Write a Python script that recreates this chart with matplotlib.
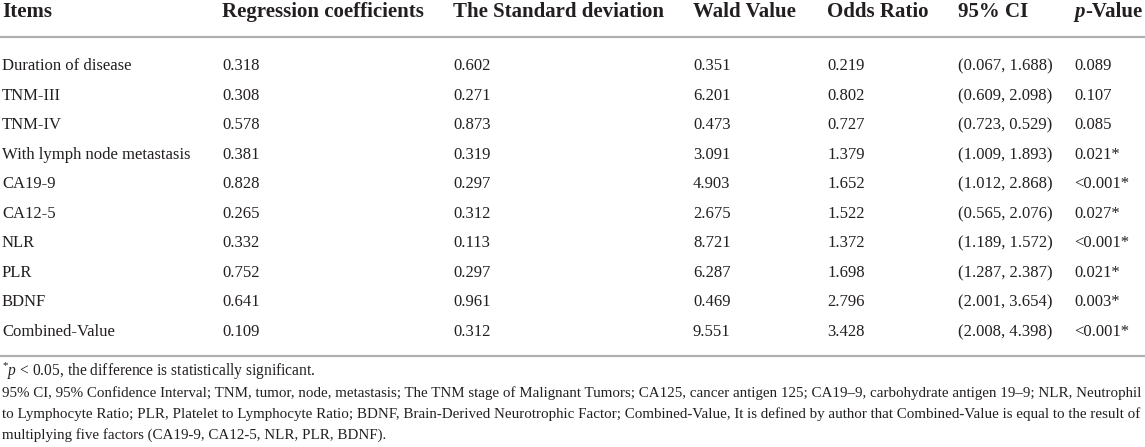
import matplotlib
matplotlib.use("Agg")
import matplotlib.pyplot as plt
from matplotlib.lines import Line2D

plt.rcParams['font.family'] = ['Liberation Serif', 'DejaVu Serif']
plt.rcParams['mathtext.fontset'] = 'custom'
plt.rcParams['mathtext.rm'] = 'Liberation Serif'
plt.rcParams['mathtext.it'] = 'Liberation Serif:italic'
plt.rcParams['mathtext.bf'] = 'Liberation Serif:bold'

headers = ["Items", "Regression coefficients", "The Standard deviation",
           "Wald Value", "Odds Ratio", "95% CI", "-Value"]
items = ["Duration of disease", "TNM-III", "TNM-IV", "With lymph node metastasis",
         "CA19-9", "CA12-5", "NLR", "PLR", "BDNF", "Combined-Value"]
reg_coef = ["0.318", "0.308", "0.578", "0.381", "0.828", "0.265", "0.332", "0.752", "0.641", "0.109"]
std_dev = ["0.602", "0.271", "0.873", "0.319", "0.297", "0.312", "0.113", "0.297", "0.961", "0.312"]
wald = ["0.351", "6.201", "0.473", "3.091", "4.903", "2.675", "8.721", "6.287", "0.469", "9.551"]
odds = ["0.219", "0.802", "0.727", "1.379", "1.652", "1.522", "1.372", "1.698", "2.796", "3.428"]
ci = ["(0.067, 1.688)", "(0.609, 2.098)", "(0.723, 0.529)", "(1.009, 1.893)", "(1.012, 2.868)",
      "(0.565, 2.076)", "(1.189, 1.572)", "(1.287, 2.387)", "(2.001, 3.654)", "(2.008, 4.398)"]
pval = ["0.089", "0.107", "0.085", "0.021*", "<0.001*", "0.027*", "<0.001*", "0.021*", "0.003*", "<0.001*"]

foot1 = r"$^{*}p$ < 0.05, the difference is statistically significant."
foot_lines = [
    "95% CI, 95% Confidence Interval; TNM, tumor, node, metastasis; The TNM stage of Malignant Tumors; "
    "CA125, cancer antigen 125; CA19\u20139, carbohydrate antigen 19\u20139; NLR, Neutrophil",
    "to Lymphocyte Ratio; PLR, Platelet to Lymphocyte Ratio; BDNF, Brain-Derived Neurotrophic Factor; "
    "Combined-Value, It is defined by author that Combined-Value is equal to the result of",
    "multiplying five factors (CA19-9, CA12-5, NLR, PLR, BDNF).",
]

W, H = 1145, 447
fig = plt.figure(figsize=(W / 100, H / 100), dpi=100)
fig.patch.set_facecolor("white")

def fx(x):
    return x / W

def fy(y):
    return 1 - y / H

col_x = [2, 222, 453, 693, 827, 958, 1074]
header_base = 17
row_base0 = 70
row_dy = 29.56
txt_color = "#231f20"
HFS = 15
BFS = 12

# header
for i, h in enumerate(headers):
    if i == 6:
        t = fig.text(fx(col_x[i]), fy(header_base), "p", fontsize=HFS, fontweight="bold",
                     fontstyle="italic", va="baseline", ha="left", color=txt_color)
        fig.canvas.draw()
        bb = t.get_window_extent()
        fig.text(bb.x1 / W + 0.0005, fy(header_base), h, fontsize=HFS, fontweight="bold",
                 va="baseline", ha="left", color=txt_color)
    else:
        fig.text(fx(col_x[i]), fy(header_base), h, fontsize=HFS, fontweight="bold",
                 va="baseline", ha="left", color=txt_color)

fig.add_artist(Line2D([0, 1], [fy(37), fy(37)], color="#b0b0b0", lw=1.6, transform=fig.transFigure))
fig.add_artist(Line2D([0, 1], [fy(356), fy(356)], color="#b0b0b0", lw=1.6, transform=fig.transFigure))

columns = [items, reg_coef, std_dev, wald, odds, ci, pval]
for r in range(len(items)):
    y = round(row_base0 + r * row_dy)
    for c, col in enumerate(columns):
        fig.text(fx(col_x[c]), fy(y), col[r], fontsize=BFS, va="baseline", ha="left", color=txt_color)

# footnotes
fig.text(fx(2), fy(376), foot1, fontsize=11.2, va="baseline", ha="left", color=txt_color)
foot_y = [397, 418, 439]
target_w = 1138
fig.canvas.draw()
renderer = fig.canvas.get_renderer()
probe = fig.text(0, 0, foot_lines[0], fontsize=10)
w0 = probe.get_window_extent(renderer).width
probe.remove()
fsize = 10 * target_w / w0
for y, line in zip(foot_y, foot_lines):
    fig.text(fx(2), fy(y), line, fontsize=fsize, va="baseline", ha="left", color=txt_color)

fig.savefig("out.png", dpi=100, facecolor="white")
